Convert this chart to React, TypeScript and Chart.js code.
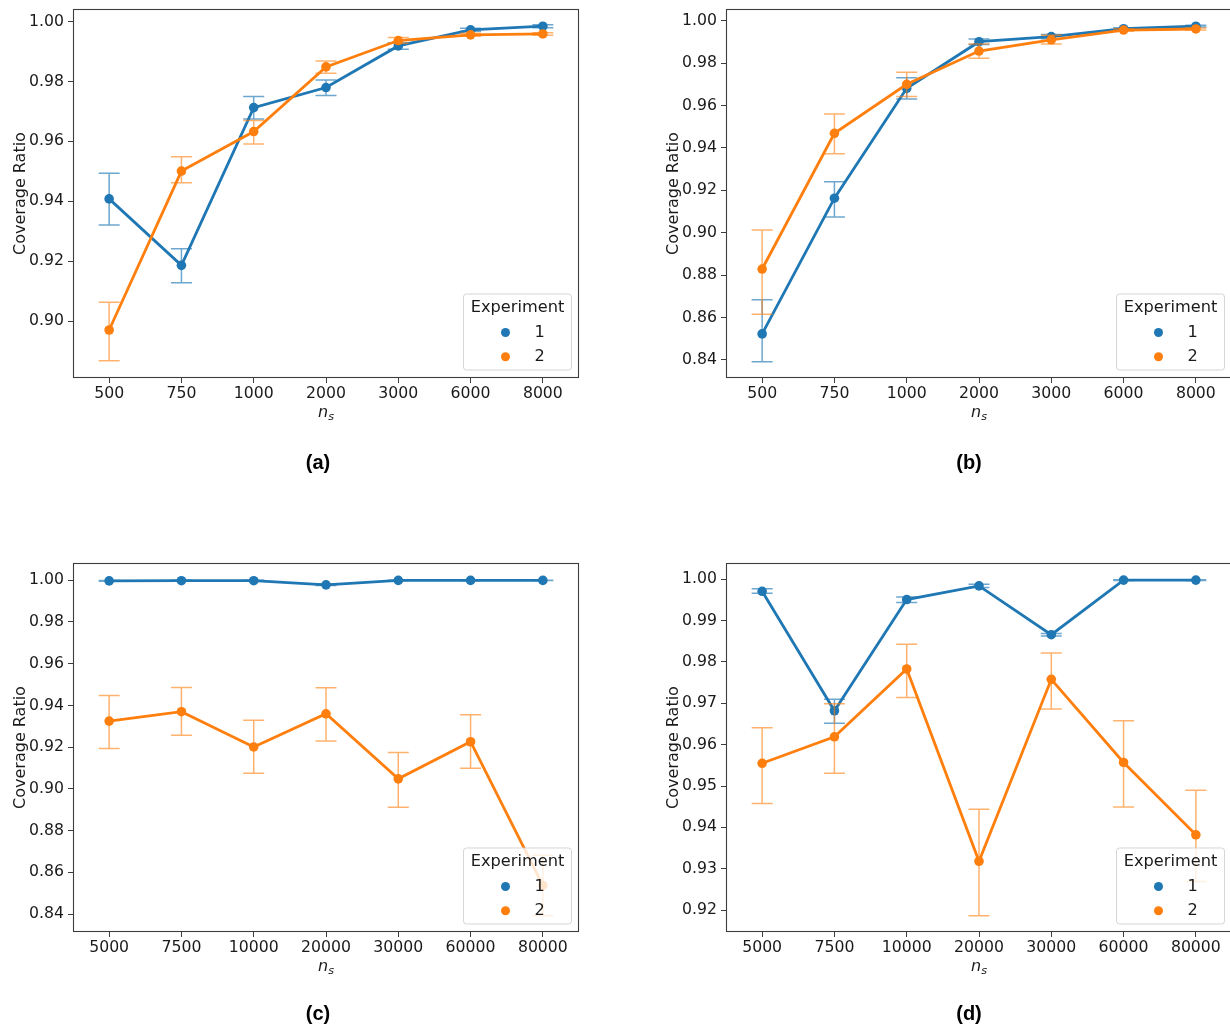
import React, { useEffect, useRef } from "react";
import { Chart, registerables } from "chart.js";
Chart.register(...registerables);

// ---------- data ----------
const labelsAB = ["500", "750", "1000", "2000", "3000", "6000", "8000"];
const labelsCD = ["5000", "7500", "10000", "20000", "30000", "60000", "80000"];
const seriesNames = ["1", "2"];

// panel (a)
const a1Mean = [0.9408, 0.9186, 0.9713, 0.978, 0.9919, 0.9973, 0.9985];
const a1Low = [0.9321, 0.9128, 0.9675, 0.9753, 0.9908, 0.9968, 0.998];
const a1High = [0.9494, 0.9241, 0.975, 0.9805, 0.993, 0.9978, 0.999];
const a2Mean = [0.897, 0.9501, 0.9633, 0.9849, 0.9937, 0.9956, 0.9959];
const a2Low = [0.8867, 0.9462, 0.9591, 0.9828, 0.9928, 0.9951, 0.9955];
const a2High = [0.9063, 0.9549, 0.967, 0.9869, 0.9947, 0.9961, 0.9963];

// panel (b)
const b1Mean = [0.8523, 0.9163, 0.9681, 0.9901, 0.9925, 0.9962, 0.9974];
const b1Low = [0.8392, 0.9074, 0.9631, 0.9888, 0.9915, 0.9957, 0.997];
const b1High = [0.8684, 0.9241, 0.9731, 0.9914, 0.9935, 0.9967, 0.9978];
const b2Mean = [0.8829, 0.9469, 0.97, 0.9857, 0.991, 0.9956, 0.9961];
const b2Low = [0.8616, 0.9373, 0.9642, 0.9823, 0.989, 0.995, 0.9956];
const b2High = [0.9013, 0.956, 0.9757, 0.989, 0.9932, 0.9962, 0.9966];

// panel (c)
const c1Mean = [0.9997, 0.9998, 0.9998, 0.9978, 0.99995, 0.99995, 0.99995];
const c1Low = [0.9995, 0.9996, 0.9996, 0.9975, 0.9999, 0.9999, 0.9999];
const c1High = [0.9999, 1.0, 1.0, 0.9981, 1.0, 1.0, 1.0];
const c2Mean = [0.9325, 0.937, 0.9201, 0.936, 0.9048, 0.9226, 0.8537];
const c2Low = [0.9193, 0.9257, 0.9075, 0.923, 0.8912, 0.9099, 0.8393];
const c2High = [0.9448, 0.9486, 0.9329, 0.9485, 0.9174, 0.9355, 0.8682];

// panel (d)
const d1Mean = [0.9971, 0.9682, 0.9951, 0.9984, 0.9866, 0.9998, 0.9998];
const d1Low = [0.9966, 0.9652, 0.9944, 0.998, 0.9863, 0.9997, 0.9997];
const d1High = [0.9977, 0.971, 0.9957, 0.9988, 0.9869, 0.9999, 0.9999];
const d2Mean = [0.9555, 0.9619, 0.9783, 0.9318, 0.9758, 0.9557, 0.9382];
const d2Low = [0.9458, 0.9531, 0.9714, 0.9186, 0.9686, 0.9449, 0.9269];
const d2High = [0.9641, 0.9699, 0.9843, 0.9444, 0.9822, 0.9658, 0.949];

// tick labels
const yTicksA = [0.9, 0.92, 0.94, 0.96, 0.98, 1.0];
const yTicksB = [0.84, 0.86, 0.88, 0.9, 0.92, 0.94, 0.96, 0.98, 1.0];
const yTicksC = [0.84, 0.86, 0.88, 0.9, 0.92, 0.94, 0.96, 0.98, 1.0];
const yTicksD = [0.92, 0.93, 0.94, 0.95, 0.96, 0.97, 0.98, 0.99, 1.0];

const captions = ["(a)", "(b)", "(c)", "(d)"];

// ---------- styling ----------
const BLUE = "#1f77b4";
const ORANGE = "#ff7f0e";
const BLUE_ERR = "rgba(31,119,180,0.65)";
const ORANGE_ERR = "rgba(255,127,14,0.6)";
const FONT = "DejaVu Sans";
const TEXT = "#1a1a1a";
const SPINE = "#3d3d3d";

type Panel = {
  labels: string[];
  means: number[][];
  lows: number[][];
  highs: number[][];
  yMin: number;
  yMax: number;
  yTicks: number[];
  caption: string;
  pos: { left: number; top: number; w: number; h: number };
  area: { left: number; top: number; right: number; bottom: number };
  captionX: number;
  captionY: number;
};

const panels: Panel[] = [
  {
    labels: labelsAB,
    means: [a1Mean, a2Mean],
    lows: [a1Low, a2Low],
    highs: [a1High, a2High],
    yMin: 0.88096,
    yMax: 1.00424,
    yTicks: yTicksA,
    caption: captions[0],
    pos: { left: 0, top: 0, w: 615, h: 514 },
    area: { left: 73, top: 9, right: 579, bottom: 378 },
    captionX: 318,
    captionY: 463,
  },
  {
    labels: labelsAB,
    means: [b1Mean, b2Mean],
    lows: [b1Low, b2Low],
    highs: [b1High, b2High],
    yMin: 0.83151,
    yMax: 1.00552,
    yTicks: yTicksB,
    caption: captions[1],
    pos: { left: 615, top: 0, w: 625, h: 514 },
    area: { left: 111, top: 9, right: 617, bottom: 378 },
    captionX: 354,
    captionY: 463,
  },
  {
    labels: labelsCD,
    means: [c1Mean, c2Mean],
    lows: [c1Low, c2Low],
    highs: [c1High, c2High],
    yMin: 0.83139,
    yMax: 1.00828,
    yTicks: yTicksC,
    caption: captions[2],
    pos: { left: 0, top: 514, w: 615, h: 514 },
    area: { left: 73, top: 49, right: 579, bottom: 418 },
    captionX: 318,
    captionY: 500,
  },
  {
    labels: labelsCD,
    means: [d1Mean, d2Mean],
    lows: [d1Low, d2Low],
    highs: [d1High, d2High],
    yMin: 0.91469,
    yMax: 1.00394,
    yTicks: yTicksD,
    caption: captions[3],
    pos: { left: 615, top: 514, w: 625, h: 514 },
    area: { left: 111, top: 49, right: 617, bottom: 418 },
    captionX: 354,
    captionY: 500,
  },
];

function makeDecorPlugin(p: Panel) {
  return {
    id: "panelDecor",
    beforeDatasetDraw(chart: any, args: any) {
      const ds = chart.data.datasets[args.index];
      const meta = args.meta;
      const y = chart.scales.y;
      const ctx = chart.ctx;
      ctx.save();
      ctx.strokeStyle = ds.errColor;
      ctx.lineWidth = 1.5;
      const cap = 10.5;
      for (let i = 0; i < meta.data.length; i++) {
        const x = meta.data[i].x;
        const yl = y.getPixelForValue(ds.errLow[i]);
        const yh = y.getPixelForValue(ds.errHigh[i]);
        ctx.beginPath();
        ctx.moveTo(x, yl);
        ctx.lineTo(x, yh);
        ctx.moveTo(x - cap, yl);
        ctx.lineTo(x + cap, yl);
        ctx.moveTo(x - cap, yh);
        ctx.lineTo(x + cap, yh);
        ctx.stroke();
      }
      ctx.restore();
    },
    afterDatasetsDraw(chart: any) {
      const ctx = chart.ctx;
      const a = chart.chartArea;
      ctx.save();
      // axes box
      ctx.strokeStyle = SPINE;
      ctx.lineWidth = 1.1;
      ctx.strokeRect(a.left + 0.5, a.top + 0.5, a.right - a.left - 1, a.bottom - a.top - 1);
      // legend
      const w = 108;
      const h = 76;
      const lx = a.right - 7.5 - w;
      const ly = a.bottom - 8 - h;
      const r = 3;
      ctx.beginPath();
      ctx.moveTo(lx + r, ly);
      ctx.lineTo(lx + w - r, ly);
      ctx.arcTo(lx + w, ly, lx + w, ly + r, r);
      ctx.lineTo(lx + w, ly + h - r);
      ctx.arcTo(lx + w, ly + h, lx + w - r, ly + h, r);
      ctx.lineTo(lx + r, ly + h);
      ctx.arcTo(lx, ly + h, lx, ly + h - r, r);
      ctx.lineTo(lx, ly + r);
      ctx.arcTo(lx, ly, lx + r, ly, r);
      ctx.closePath();
      ctx.fillStyle = "rgba(255,255,255,0.8)";
      ctx.fill();
      ctx.strokeStyle = "rgba(204,204,204,0.8)";
      ctx.lineWidth = 1;
      ctx.stroke();
      ctx.fillStyle = TEXT;
      ctx.font = `16.2px "${FONT}"`;
      ctx.textAlign = "center";
      ctx.textBaseline = "middle";
      ctx.fillText("Experiment", lx + w / 2, ly + 13.5);
      const cols = [BLUE, ORANGE];
      for (let i = 0; i < seriesNames.length; i++) {
        const yy = ly + 38.5 + i * 24.2;
        ctx.beginPath();
        ctx.arc(lx + 42, yy, 4.5, 0, Math.PI * 2);
        ctx.fillStyle = cols[i];
        ctx.fill();
        ctx.fillStyle = TEXT;
        ctx.textAlign = "left";
        ctx.fillText(seriesNames[i], lx + 71, yy);
      }
      ctx.restore();
    },
    afterDraw(chart: any) {
      const ctx = chart.ctx;
      const a = chart.chartArea;
      ctx.save();
      ctx.fillStyle = TEXT;
      // y label
      ctx.save();
      ctx.translate(a.left - 48.5, (a.top + a.bottom) / 2);
      ctx.rotate(-Math.PI / 2);
      ctx.font = `16px "${FONT}"`;
      ctx.textAlign = "center";
      ctx.textBaseline = "alphabetic";
      ctx.fillText("Coverage Ratio", 0, 0);
      ctx.restore();
      // x label n_s
      const cx = (a.left + a.right) / 2;
      const base = a.bottom + 38.7;
      ctx.font = `italic 16px "${FONT}"`;
      const wn = ctx.measureText("n").width;
      ctx.font = `italic 11.2px "${FONT}"`;
      const ws = ctx.measureText("s").width;
      const sx = cx - (wn + ws) / 2;
      ctx.textAlign = "left";
      ctx.textBaseline = "alphabetic";
      ctx.font = `italic 16px "${FONT}"`;
      ctx.fillText("n", sx, base);
      ctx.font = `italic 11.2px "${FONT}"`;
      ctx.fillText("s", sx + wn, base + 3.4);
      // caption
      ctx.font = `bold 20px "Liberation Sans"`;
      ctx.textAlign = "center";
      ctx.textBaseline = "middle";
      ctx.fillStyle = "#000";
      ctx.fillText(p.caption, p.captionX, p.captionY);
      ctx.restore();
    },
  };
}

function PanelChart({ p }: { p: Panel }) {
  const ref = useRef<HTMLCanvasElement | null>(null);
  useEffect(() => {
    if (!ref.current) return;
    const cols = [BLUE, ORANGE];
    const errCols = [BLUE_ERR, ORANGE_ERR];
    const datasets: any[] = p.means.map((m, i) => ({
      label: seriesNames[i],
      data: m,
      errLow: p.lows[i],
      errHigh: p.highs[i],
      errColor: errCols[i],
      borderColor: cols[i],
      backgroundColor: cols[i],
      borderWidth: 2.8,
      pointRadius: 4.8,
      pointBorderWidth: 0,
      pointBackgroundColor: cols[i],
      tension: 0,
      order: 2 - i,
    }));
    const tickGrid = {
      display: true,
      drawOnChartArea: false,
      drawTicks: true,
      tickLength: 5,
      color: SPINE,
      lineWidth: 1,
      offset: false,
    };
    const chart = new Chart(ref.current, {
      type: "line",
      data: { labels: p.labels, datasets },
      options: {
        animation: false,
        responsive: false,
        devicePixelRatio: 1,
        events: [],
        layout: {
          padding: { left: 0, top: p.area.top, right: p.pos.w - p.area.right, bottom: 0 },
        },
        plugins: {
          legend: { display: false },
          tooltip: { enabled: false },
          title: { display: false },
        },
        scales: {
          x: {
            type: "category",
            offset: true,
            grid: tickGrid,
            border: { display: false },
            ticks: {
              font: { family: FONT, size: 15.7 },
              color: TEXT,
              padding: 2,
              maxRotation: 0,
              autoSkip: false,
            },
            afterFit: (s: any) => {
              s.height = p.pos.h - p.area.bottom;
              s.paddingLeft = 0;
              s.paddingRight = 0;
            },
          },
          y: {
            type: "linear",
            min: p.yMin,
            max: p.yMax,
            grid: tickGrid,
            border: { display: false },
            afterBuildTicks: (s: any) => {
              s.ticks = p.yTicks.map((v) => ({ value: v }));
            },
            ticks: {
              font: { family: FONT, size: 15.7 },
              color: TEXT,
              padding: 4,
              callback: (v: any) => Number(v).toFixed(2),
            },
            afterFit: (s: any) => {
              s.width = p.area.left;
              s.paddingTop = 0;
              s.paddingBottom = 0;
            },
          },
        },
      } as any,
      plugins: [makeDecorPlugin(p)],
    });
    return () => chart.destroy();
  }, [p]);
  return (
    <canvas
      ref={ref}
      width={p.pos.w}
      height={p.pos.h}
      style={{
        position: "absolute",
        left: p.pos.left,
        top: p.pos.top,
        width: p.pos.w,
        height: p.pos.h,
        display: "block",
      }}
    />
  );
}

export default function App() {
  return (
    <div
      style={{
        position: "fixed",
        left: 0,
        top: 0,
        width: 1230,
        height: 1028,
        overflow: "hidden",
        background: "#fff",
      }}
    >
      {panels.map((p, i) => (
        <PanelChart key={i} p={p} />
      ))}
    </div>
  );
}
